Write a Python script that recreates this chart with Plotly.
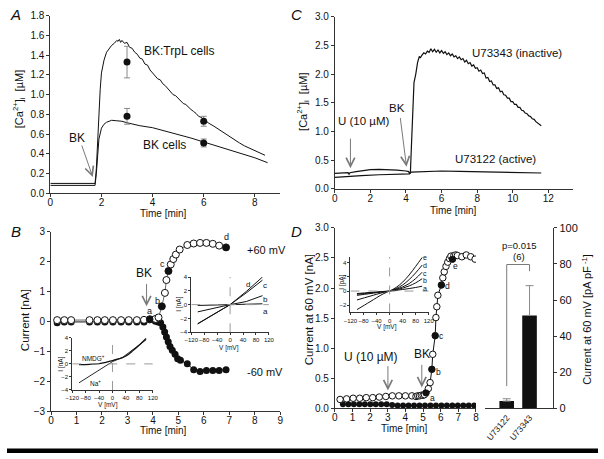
import plotly.graph_objects as go

W, H = 604, 459
FONT = "Liberation Sans, Arial, sans-serif"
INK = "#111111"
AXC = "#333333"
GREY = "#8a8a8a"

def px(x):
    return x / W

def py(y):
    return 1 - y / H

# ---------------- Panel A : [Ca2+]i, BK:TrpL vs BK cells ----------------
a_trpl_t = [0, 0.5, 1.0, 1.5, 1.75, 1.8, 1.85, 1.9, 1.95, 2.0, 2.1, 2.2, 2.3, 2.4, 2.5, 2.6, 2.65,
            2.7, 2.75, 2.8, 2.9, 3.0, 3.1, 3.2, 3.3, 3.4, 3.5, 3.6, 3.7, 3.8, 3.9, 4.0, 4.1, 4.2,
            4.3, 4.4, 4.5, 4.6, 4.7, 4.8, 4.9, 5.0, 5.1, 5.2, 5.3, 5.4, 5.5, 5.6, 5.7, 5.8, 5.9,
            6.0, 6.2, 6.4, 6.6, 6.8, 7.0, 7.2, 7.4, 7.6, 7.8, 8.0, 8.2, 8.4]
a_trpl_v = [0.10, 0.10, 0.10, 0.10, 0.10, 0.25, 0.55, 0.85, 1.05, 1.22, 1.35, 1.43, 1.47, 1.50, 1.52,
            1.55, 1.54, 1.56, 1.53, 1.55, 1.52, 1.53, 1.48, 1.47, 1.43, 1.41, 1.37, 1.36, 1.31, 1.30,
            1.25, 1.22, 1.20, 1.16, 1.15, 1.11, 1.09, 1.06, 1.04, 1.00, 0.99, 0.96, 0.94, 0.91, 0.90,
            0.87, 0.85, 0.83, 0.81, 0.78, 0.77, 0.75, 0.71, 0.68, 0.645, 0.61, 0.58, 0.545, 0.51,
            0.48, 0.455, 0.43, 0.41, 0.385]
a_bk_t = [0, 0.5, 1.0, 1.5, 1.75, 1.8, 1.85, 1.9, 2.0, 2.1, 2.2, 2.3, 2.4, 2.6, 2.8, 3.0, 3.2, 3.5,
          4.0, 4.5, 5.0, 5.5, 6.0, 6.5, 7.0, 7.5, 8.0, 8.5]
a_bk_v = [0.08, 0.08, 0.08, 0.08, 0.08, 0.20, 0.40, 0.55, 0.66, 0.70, 0.72, 0.73, 0.74, 0.735, 0.73,
          0.715, 0.70, 0.685, 0.665, 0.63, 0.60, 0.56, 0.52, 0.48, 0.44, 0.40, 0.36, 0.31]
a_pts_t = [3, 6]
a_trpl_mean = [1.33, 0.73]
a_trpl_err = [0.16, 0.05]
a_bk_mean = [0.78, 0.51]
a_bk_err = [0.08, 0.04]

# ---------------- Panel C : U73343 (inactive) vs U73122 (active) ----------------
c_inact_t = [0, 0.4, 0.75, 0.8, 0.85, 1.2, 1.6, 2.0, 2.5, 3.0, 3.5, 4.0, 4.15, 4.2, 4.25, 4.3,
             4.35, 4.4, 4.45, 4.55, 4.65, 4.75, 4.8,
             4.9, 5.0, 5.1, 5.2, 5.3, 5.4, 5.5, 5.6, 5.7, 5.8, 5.9, 6.0, 6.1, 6.2, 6.3, 6.4, 6.5,
             6.6, 6.7, 6.8, 6.9, 7.0, 7.1, 7.2, 7.3, 7.4, 7.5, 7.6, 7.7, 7.8, 7.9, 8.0, 8.1, 8.2,
             8.3, 8.4, 8.5, 8.6, 8.7, 8.8, 8.9, 9.0, 9.1, 9.2, 9.3, 9.4, 9.5, 9.6, 9.7, 9.8, 9.9,
             10.0, 10.1, 10.2, 10.3, 10.4, 10.5, 10.6, 10.7, 10.8, 10.9, 11.0, 11.1, 11.2, 11.3,
             11.4, 11.5, 11.6]
c_inact_v = [0.27, 0.275, 0.28, 0.25, 0.28, 0.30, 0.32, 0.335, 0.34, 0.335, 0.325, 0.31, 0.30, 0.26,
             0.30, 0.70, 1.20, 1.60, 1.85, 2.00, 2.20, 2.31, 2.28,
             2.33, 2.37, 2.35, 2.40, 2.38, 2.44, 2.39, 2.43, 2.38, 2.42, 2.37, 2.41, 2.36, 2.39,
             2.34, 2.37, 2.32, 2.35, 2.30, 2.32, 2.27, 2.30, 2.25, 2.27, 2.21, 2.24, 2.18, 2.20,
             2.14, 2.16, 2.10, 2.11, 2.05, 2.07, 2.01, 2.02, 1.93, 1.94, 1.87, 1.88, 1.81, 1.81,
             1.75, 1.76, 1.69, 1.70, 1.64, 1.63, 1.58, 1.58, 1.52, 1.52, 1.47, 1.47, 1.42, 1.42,
             1.37, 1.36, 1.32, 1.31, 1.27, 1.26, 1.22, 1.21, 1.17, 1.15, 1.12, 1.10]
c_act_t = [0, 0.8, 0.85, 1.5, 2.5, 3.5, 4.1, 4.2, 4.3, 5.0, 6.0, 7.0, 8.0, 9.0, 10.0, 11.0, 11.6]
c_act_v = [0.20, 0.22, 0.21, 0.23, 0.245, 0.25, 0.25, 0.26, 0.29, 0.30, 0.31, 0.305, 0.30, 0.295,
           0.29, 0.28, 0.275]

# ---------------- Panel B : whole-cell current, BK:TrpL ----------------
b_pos_t = [0.24, 0.52, 0.79, 1.51, 1.82, 2.11, 2.43, 2.75, 3.05, 3.37, 3.65, 3.88, 4.1, 4.22, 4.35,
           4.47, 4.53, 4.61, 4.7, 4.8, 4.9, 5.05, 5.35, 5.6, 5.85, 6.1, 6.35, 6.6, 6.87]
b_pos_v = [0.04, 0.04, 0.04, 0.04, 0.04, 0.04, 0.04, 0.04, 0.04, 0.04, 0.05, 0.07, 0.08, 0.13, 0.50,
           0.95, 1.38, 1.68, 1.90, 2.08, 2.23, 2.40, 2.55, 2.60, 2.62, 2.62, 2.59, 2.53, 2.47]
b_neg_t = [0.24, 0.52, 0.79, 1.51, 1.82, 2.11, 2.43, 2.75, 3.05, 3.37, 3.65, 3.88, 4.0, 4.1, 4.2,
           4.3, 4.39, 4.46, 4.53, 4.6, 4.67, 4.76, 4.87, 4.97, 5.08, 5.35, 5.6, 5.85, 6.1, 6.35,
           6.6, 6.87]
b_neg_v = [-0.05, -0.02, -0.02, -0.02, -0.02, -0.02, -0.02, -0.02, -0.02, -0.02, -0.02, 0.05, 0.05,
           0.0, -0.02, -0.05, -0.19, -0.36, -0.52, -0.68, -0.84, -0.97, -1.1, -1.25, -1.3, -1.42,
           -1.62, -1.68, -1.64, -1.64, -1.64, -1.62]
b_mark_t = [3.88, 4.35, 4.61, 6.87]
b_mark_v = [0.07, 0.50, 1.68, 2.47]

# inset B1 : I-V curves a-d
b_iv_v = [-100, -50, 0, 50, 100]
b_iv_a = [-0.12, -0.06, 0.0, 0.06, 0.12]
b_iv_b = [-1.05, -0.5, 0.0, 0.45, 1.3]
b_iv_c = [-2.75, -1.35, 0.0, 1.7, 3.55]
b_iv_d = [-2.8, -1.4, 0.0, 1.9, 4.0]
# inset B2 : Na+ vs NMDG+
b_na_v = [-100, 0, 30, 60, 100]
b_na_i = [-2.9, 0.35, 1.0, 2.1, 3.7]
b_nm_v = [-100, -80, -60, -40, -20, 0, 20, 30, 40, 60, 80, 100]
b_nm_i = [-0.12, -0.1, -0.05, 0.05, 0.25, 0.5, 0.8, 0.95, 1.2, 2.0, 2.9, 3.9]

# ---------------- Panel D : current at 60 mV with U73343 ----------------
d_pos_t = [0.3, 0.67, 1.04, 1.41, 1.78, 2.15, 2.52, 2.89, 3.26, 3.63, 4.0, 4.37, 4.6, 4.7, 4.8,
           4.9, 5.0, 5.08, 5.17, 5.3, 5.4, 5.5, 5.55, 5.69, 5.73, 5.78, 5.84, 6.04, 6.12, 6.2, 6.3,
           6.4, 6.5, 6.58, 6.67, 6.75, 6.85, 6.95, 7.2, 7.45, 7.7, 7.95]
d_pos_v = [0.15, 0.16, 0.17, 0.17, 0.18, 0.18, 0.19, 0.20, 0.21, 0.21, 0.21, 0.21, 0.20, 0.21,
           0.21, 0.22, 0.22, 0.23, 0.26, 0.33, 0.43, 0.65, 0.90, 1.21, 1.51, 1.69, 1.88, 2.05,
           2.17, 2.27, 2.36, 2.43, 2.49, 2.53, 2.48, 2.54, 2.55, 2.54, 2.52, 2.55, 2.52, 2.48]
d_neg_t = [0.46, 0.77, 1.08, 1.39, 1.70, 2.01, 2.32, 2.63, 2.94, 3.25, 3.56, 3.87, 4.18, 4.49,
           4.80, 5.11, 5.42, 5.73, 6.04, 6.35, 6.66, 6.97, 7.28, 7.59, 7.90]
d_neg_v = [0.07, 0.07, 0.07, 0.07, 0.07, 0.07, 0.07, 0.07, 0.07, 0.06, 0.05, 0.05, 0.05, 0.05,
           0.05, 0.05, 0.05, 0.05, 0.05, 0.05, 0.05, 0.05, 0.05, 0.05, 0.05]
d_mark_t = [5.17, 5.5, 5.69, 6.04, 6.67]
d_mark_v = [0.26, 0.65, 1.21, 2.05, 2.48]
d_mark_lbl = ["a", "b", "c", "d", "e"]

# inset D : I-V curves a-e
d_iv_v = [-100, -60, -20, 0, 20, 40, 60, 80, 100]
d_iv_a = [-0.35, -0.2, -0.06, 0.0, 0.1, 0.22, 0.35, 0.5, 0.68]
d_iv_b = [-0.45, -0.27, -0.08, 0.0, 0.18, 0.4, 0.72, 1.15, 1.73]
d_iv_c = [-0.6, -0.36, -0.11, 0.0, 0.25, 0.58, 1.05, 1.75, 2.64]
d_iv_d = [-1.25, -0.72, -0.2, 0.0, 0.35, 0.85, 1.6, 2.55, 3.64]
d_iv_e = [-2.6, -1.5, -0.4, 0.0, 0.5, 1.25, 2.25, 3.45, 4.7]

# bars
bar_names = ["U73122", "U73343"]
bar_vals = [4.1, 51.5]
bar_errs = [1.3, 16.5]
bar_n = "(6)"
bar_p = "p=0.015"

fig = go.Figure()

line_k = dict(color=INK, width=1)

# Panel A
fig.add_trace(go.Scatter(x=a_trpl_t, y=a_trpl_v, mode="lines", line=dict(color=INK, width=1),
                         xaxis="x", yaxis="y"))
fig.add_trace(go.Scatter(x=a_bk_t, y=a_bk_v, mode="lines", line=dict(color=INK, width=1),
                         xaxis="x", yaxis="y"))
for mean, err in ((a_trpl_mean, a_trpl_err), (a_bk_mean, a_bk_err)):
    fig.add_trace(go.Scatter(x=a_pts_t, y=mean, mode="markers",
                             marker=dict(color=INK, size=7),
                             error_y=dict(type="data", array=err, color=GREY, thickness=1, width=3),
                             xaxis="x", yaxis="y"))

# Panel C
fig.add_trace(go.Scatter(x=c_inact_t, y=c_inact_v, mode="lines", line=dict(color=INK, width=1.2),
                         xaxis="x2", yaxis="y2"))
fig.add_trace(go.Scatter(x=c_act_t, y=c_act_v, mode="lines", line=dict(color=INK, width=1.2),
                         xaxis="x2", yaxis="y2"))

# Panel B
fig.add_trace(go.Scatter(x=b_neg_t, y=b_neg_v, mode="lines+markers", line=line_k,
                         marker=dict(color=INK, size=7), xaxis="x3", yaxis="y3"))
fig.add_trace(go.Scatter(x=b_pos_t, y=b_pos_v, mode="lines+markers", line=dict(color="#666", width=1),
                         marker=dict(color="white", size=7, line=dict(color=INK, width=1)),
                         xaxis="x3", yaxis="y3"))
fig.add_trace(go.Scatter(x=b_mark_t, y=b_mark_v, mode="markers",
                         marker=dict(color=INK, size=7), xaxis="x3", yaxis="y3"))

# Panel D main
fig.add_trace(go.Scatter(x=d_neg_t, y=d_neg_v, mode="lines+markers", line=line_k,
                         marker=dict(color=INK, size=6), xaxis="x4", yaxis="y4"))
fig.add_trace(go.Scatter(x=d_pos_t, y=d_pos_v, mode="lines+markers", line=line_k,
                         marker=dict(color="white", size=6.5, line=dict(color=INK, width=1)),
                         xaxis="x4", yaxis="y4"))
fig.add_trace(go.Scatter(x=d_mark_t, y=d_mark_v, mode="markers",
                         marker=dict(color=INK, size=6.5), xaxis="x4", yaxis="y4"))

# Panel D bars
fig.add_trace(go.Bar(x=bar_names, y=bar_vals, width=0.64, marker=dict(color=INK, line=dict(width=0)),
                     error_y=dict(type="data", array=bar_errs, arrayminus=[0, 0], symmetric=False,
                                  color=GREY, thickness=1, width=4),
                     xaxis="x5", yaxis="y5"))

# inset B1
for cur in (b_iv_a, b_iv_b, b_iv_c, b_iv_d):
    fig.add_trace(go.Scatter(x=b_iv_v, y=cur, mode="lines", line=dict(color=INK, width=1),
                             xaxis="x6", yaxis="y6"))
# inset B2
fig.add_trace(go.Scatter(x=b_na_v, y=b_na_i, mode="lines", line=dict(color=INK, width=0.9),
                         xaxis="x7", yaxis="y7"))
fig.add_trace(go.Scatter(x=b_nm_v, y=b_nm_i, mode="lines", line=dict(color=INK, width=1.3),
                         line_shape="spline", xaxis="x7", yaxis="y7"))
# inset D
for cur in (d_iv_a, d_iv_b, d_iv_c, d_iv_d, d_iv_e):
    fig.add_trace(go.Scatter(x=d_iv_v, y=cur, mode="lines", line=dict(color=INK, width=1),
                             line_shape="spline", xaxis="x8", yaxis="y8"))


def axis(domain, rng, size=10, **kw):
    d = dict(domain=domain, range=rng, showgrid=False, zeroline=False, showline=True,
             linecolor=AXC, linewidth=1, ticks="outside", ticklen=3, tickwidth=1,
             tickcolor=AXC, tickfont=dict(size=size, color=INK, family=FONT), fixedrange=True)
    d.update(kw)
    return d


inset_x = dict(tickvals=[-120, -80, -40, 0, 40, 80, 120], size=6, ticklen=2, tickangle=0)
main_x = dict(ticklabelstandoff=-3)

lay = dict(
    width=W, height=H, margin=dict(l=0, r=0, t=0, b=0), showlegend=False,
    paper_bgcolor="white", plot_bgcolor="rgba(0,0,0,0)", font=dict(family=FONT, color=INK),
    # A
    xaxis=axis([px(44.3), px(279.4)], [0, 9], tickvals=[0, 2, 4, 6, 8], anchor="y", **main_x),
    yaxis=axis([py(192.3), py(10)], [0, 1.8], tickvals=[0, 0.2, 0.4, 0.6, 0.8, 1.0, 1.2, 1.4, 1.6, 1.8],
               tickformat=".1f", anchor="x"),
    # C
    xaxis2=axis([px(335), px(578)], [0, 13.36], tickvals=[0, 2, 4, 6, 8, 10, 12], anchor="y2", **main_x),
    yaxis2=axis([py(187.7), py(11)], [0, 3], tickvals=[0, 0.5, 1, 1.5, 2, 2.5, 3], tickformat=".1f",
                anchor="x2"),
    # B
    xaxis3=axis([px(45), px(279.3)], [0, 9], tickvals=list(range(10)), anchor="y3", **main_x),
    yaxis3=axis([py(416), py(231.6)], [-3, 3], tickvals=[-3, -2, -1, 0, 1, 2, 3], anchor="x3"),
    # D main
    xaxis4=axis([px(335), px(479.3)], [0, 8], tickvals=list(range(9)), anchor="y4", **main_x),
    yaxis4=axis([py(413.3), py(227.8)], [0, 3], tickvals=[0, 0.5, 1, 1.5, 2, 2.5, 3], tickformat=".1f",
                anchor="x4"),
    # D bars
    xaxis5=axis([px(488.3), px(558.3)], [-0.96, 2.04], ticks="", tickangle=-50, size=8.5,
                type="category", anchor="y5"),
    yaxis5=axis([py(413.3), py(227.8)], [0, 100], tickvals=[0, 20, 40, 60, 80, 100], side="right",
                anchor="x5", size=11),
    # inset B1
    xaxis6=axis([px(188.3), px(267.7)], [-120, 120], anchor="y6", **inset_x),
    yaxis6=axis([py(335), py(278.3)], [-4, 4], tickvals=[-4, -2, 0, 2, 4], size=6, ticklen=2,
                anchor="x6"),
    # inset B2
    xaxis7=axis([px(66.7), px(149)], [-120, 120], anchor="y7", **inset_x),
    yaxis7=axis([py(394.3), py(340.7)], [-4, 4], tickvals=[-4, -2, 0, 2, 4], size=6, ticklen=2,
                anchor="x7"),
    # inset D
    xaxis8=axis([px(351), px(431)], [-120, 120], anchor="y8", **inset_x),
    yaxis8=axis([py(314.7), py(257.5)], [-3, 4.8], tickvals=[-2, 0, 2, 4], size=6, ticklen=2,
                anchor="x8"),
)
fig.update_layout(**lay)

ann = []


def txt(x, y, s, size=11, xref="paper", yref="paper", angle=0, xanchor="center", yanchor="middle",
        italic=False, color=INK):
    ann.append(dict(x=x, y=y, xref=xref, yref=yref, text=(f"<i>{s}</i>" if italic else s),
                    showarrow=False, textangle=angle, xanchor=xanchor, yanchor=yanchor,
                    font=dict(size=size, color=color, family=FONT)))


def arrow(xh, yh, xt, yt, xr, yr):
    ann.append(dict(x=xh, y=yh, ax=xt, ay=yt, xref=xr, yref=yr, axref=xr, ayref=yr, text="",
                    showarrow=True, arrowhead=5, arrowsize=1.7, arrowwidth=1, arrowcolor="#7a7a7a"))


# panel letters
txt(px(9), py(9), "A", size=15, italic=True)
txt(px(296), py(9), "C", size=15, italic=True)
txt(px(9), py(232), "B", size=15, italic=True)
txt(px(296), py(232), "D", size=15, italic=True)

# axis titles
ca = "[Ca<sup>2+</sup>]<sub>i</sub>  [µM]"
txt(px(13), py(96), ca, size=11, angle=-90)
txt(px(160), py(213), "Time [min]", size=10)
txt(px(303), py(98), ca, size=11, angle=-90)
txt(px(456.7), py(210), "Time [min]", size=10)
txt(px(18), py(323), "Current [nA]", size=11.5, angle=-90)
txt(px(160), py(435.5), "Time [min]", size=10)
txt(px(308), py(312), "Current at 60 mV [nA]", size=11.5, angle=-90)
txt(px(406.7), py(434), "Time [min]", size=10)
txt(px(592), py(322), "Current at 60 mV [pA pF<sup> -1</sup>]", size=11, angle=-90)

# inset titles
txt(px(226.7), py(351), "V [mV]", size=6.5)
txt(px(176), py(306.5), "I [nA]", size=6.5, angle=-90)
txt(px(103.3), py(410), "V [mV]", size=6.5)
txt(px(55), py(367.5), "I [nA]", size=6.5, angle=-90)
txt(px(388.3), py(330), "V [mV]", size=6.5)
txt(px(341.5), py(284), "I [pA]", size=6.5, angle=-90)

# panel A text
txt(5.04, 1.44, "BK:TrpL cells", size=12, xref="x", yref="y")
txt(4.46, 0.49, "BK cells", size=12, xref="x", yref="y")
txt(1.05, 0.556, "BK", size=12, xref="x", yref="y")
arrow(1.66, 0.165, 1.21, 0.50, "x", "y")

# panel C text
txt(10.26, 2.37, "U73343 (inactive)", size=11.5, xref="x2", yref="y2")
txt(9.03, 0.52, "U73122 (active)", size=11.5, xref="x2", yref="y2")
txt(3.52, 1.40, "BK", size=11.5, xref="x2", yref="y2")
txt(1.65, 1.18, "U (10 µM)", size=11.5, xref="x2", yref="y2")
arrow(0.88, 0.36, 0.88, 0.90, "x2", "y2")
arrow(4.03, 0.385, 3.67, 1.26, "x2", "y2")

# panel B text
txt(3.65, 1.62, "BK", size=12, xref="x3", yref="y3")
arrow(3.75, 0.50, 3.75, 1.30, "x3", "y3")
txt(7.62, 2.40, "+60 mV", size=11, xref="x3", yref="y3", xanchor="left")
txt(7.62, -1.69, "-60 mV", size=11, xref="x3", yref="y3", xanchor="left")
for lbl, lx, ly in (("a", 3.87, 0.34), ("b", 4.16, 0.69), ("c", 4.39, 1.91), ("d", 6.88, 2.83)):
    txt(lx, ly, lbl, size=9, xref="x3", yref="y3")
for lbl, lx, ly in (("d", 54, 2.95), ("c", 108, 2.8), ("b", 108, 0.7), ("a", 108, -0.95)):
    txt(lx, ly, lbl, size=8, xref="x6", yref="y6")
txt(-57, 0.87, "NMDG<sup>+</sup>", size=6.5, xref="x7", yref="y7")
txt(-52, -2.87, "Na<sup>+</sup>", size=6.5, xref="x7", yref="y7")

# panel D text
txt(2.03, 0.86, "U (10 µM)", size=12, xref="x4", yref="y4")
arrow(3.01, 0.30, 3.01, 0.73, "x4", "y4")
txt(4.93, 0.90, "BK", size=12, xref="x4", yref="y4")
arrow(4.93, 0.35, 4.93, 0.75, "x4", "y4")
for lbl, lx, ly in zip(d_mark_lbl, [5.54, 5.86, 6.04, 6.41, 6.82], [0.17, 0.61, 1.20, 2.04, 2.37]):
    txt(lx, ly, lbl, size=8.5, xref="x4", yref="y4")
for lbl, ly in zip(d_mark_lbl, [0.4, 1.45, 2.5, 3.6, 4.7]):
    txt(108, ly, lbl, size=7, xref="x8", yref="y8")

# bar significance text (between the two category positions 0 and 1)
txt(0.55, 90.3, bar_p, size=9.5, xref="x5", yref="y5")
txt(0.55, 84, bar_n, size=9.5, xref="x5", yref="y5")

fig.update_layout(annotations=ann)

# shapes: dashed zero lines of insets, significance bracket, bottom rule
shapes = []
for xr, yr, yl, xl in (("x6", "y6", (-4, 4), (-120, 120)), ("x7", "y7", (-4, 4), (-120, 120)),
                       ("x8", "y8", (-3, 4.8), (-120, 120))):
    shapes.append(dict(type="line", xref=xr, yref=yr, x0=0, x1=0, y0=yl[0], y1=yl[1],
                       line=dict(color="#9a9a9a", width=1, dash="dash")))
    shapes.append(dict(type="line", xref=xr, yref=yr, x0=xl[0], x1=xl[1], y0=0, y1=0,
                       line=dict(color="#9a9a9a", width=1, dash="dash")))
br_top = 79.7
shapes.append(dict(type="path", xref="x5", yref="y5",
                   path=f"M 0,{bar_vals[0] + bar_errs[0] + 7} L 0,{br_top} L 1,{br_top} "
                        f"L 1,{bar_vals[1] + bar_errs[1] + 8}",
                   line=dict(color="#7a7a7a", width=1)))
shapes.append(dict(type="rect", xref="paper", yref="paper", x0=0, x1=1, y0=0, y1=py(454.5),
                   fillcolor="black", line=dict(width=0)))
fig.update_layout(shapes=shapes)

fig.write_html(
    "out.html",
    config={"displayModeBar": False, "staticPlot": True},
    post_script="document.body.style.margin='0';document.body.style.padding='0';",
)
